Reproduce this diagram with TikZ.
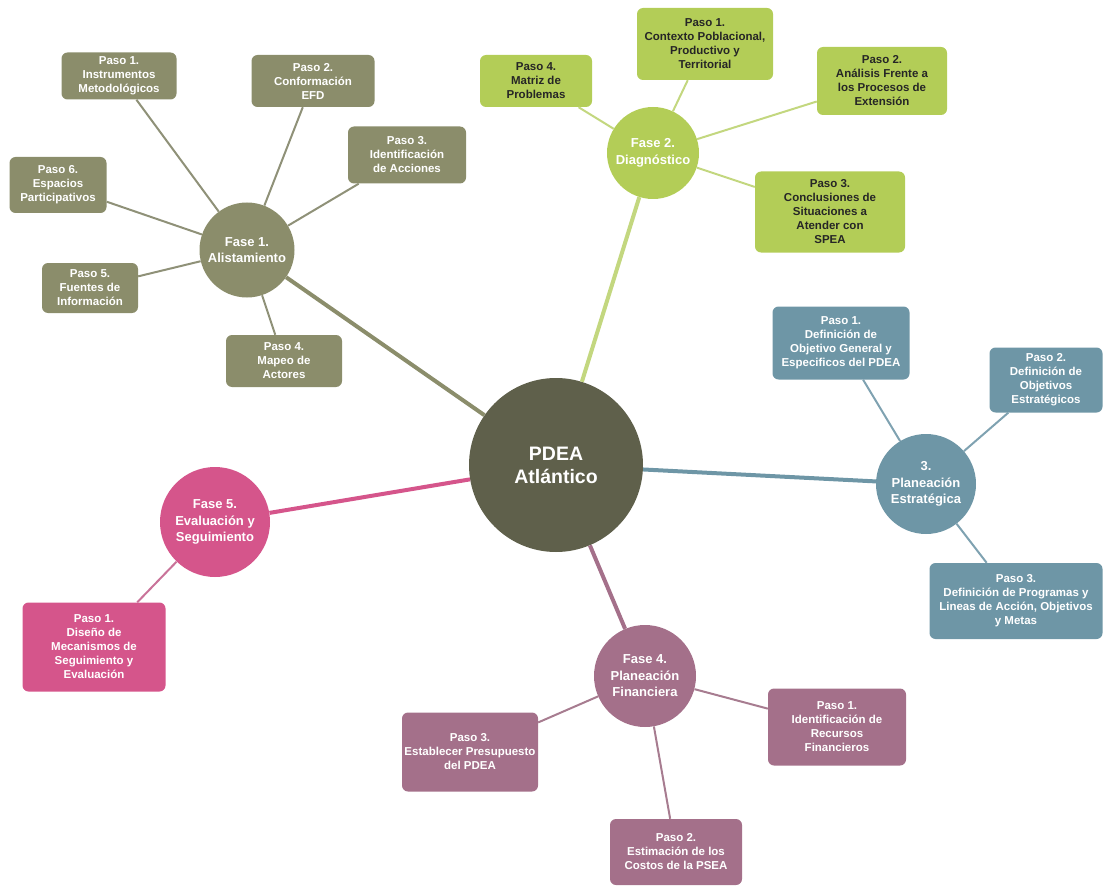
\documentclass[tikz,border=0pt]{standalone}
\usepackage{fontspec}
\setmainfont{Liberation Sans}
\definecolor{cCentro}{HTML}{5F604B}
\definecolor{cAlista}{HTML}{8B8D6B}
\definecolor{lAlista}{HTML}{8F9178}
\definecolor{cDiag}{HTML}{B3CD57}
\definecolor{lDiag}{HTML}{C3D77F}
\definecolor{cPlan}{HTML}{6E96A6}
\definecolor{lPlan}{HTML}{7FA2B1}
\definecolor{cFin}{HTML}{A4708A}
\definecolor{lFin}{HTML}{A77C90}
\definecolor{cEval}{HTML}{D5558B}
\definecolor{lEval}{HTML}{C97399}
\begin{document}
\begin{tikzpicture}[
        x=1pt,
        y=-1pt,
        font=\bfseries
    ]
    \tikzset{
        centro/.style = {circle, fill=cCentro, text=white, align=center, inner sep=0pt, minimum size=174pt, font=\bfseries\fontsize{19.5}{23}\selectfont},
        fase/.style = {circle, text=white, align=center, inner sep=0pt, font=\bfseries\fontsize{13}{16.5}\selectfont},
        paso/.style = {rectangle, rounded corners=6pt, text=white, align=center, inner sep=2pt, font=\bfseries\fontsize{11.5}{14}\selectfont},
        ramal/.style = {-, line width=4pt},
        hoja/.style = {-, line width=2pt},
    }
    \useasboundingbox (0,0) rectangle (1104,888);
    \node[centro] at (556,465) (pdea) {PDEA\\Atlántico};
    %
    \node[fase, fill=cAlista, minimum size=95pt] at (247,250) (f1) {Fase 1.\\Alistamiento};
    \node[paso, fill=cAlista, minimum width=115pt, minimum height=47pt] at (119,76) (f1p1) {Paso 1.\\Instrumentos\\Metodológicos};
    \node[paso, fill=cAlista, minimum width=123pt, minimum height=52pt] at (313,81) (f1p2) {Paso 2.\\Conformación\\EFD};
    \node[paso, fill=cAlista, minimum width=118pt, minimum height=57pt] at (407,155) (f1p3) {Paso 3.\\Identificación\\de Acciones};
    \node[paso, fill=cAlista, minimum width=116pt, minimum height=52pt] at (284,361) (f1p4) {Paso 4.\\Mapeo de\\Actores};
    \node[paso, fill=cAlista, minimum width=96pt, minimum height=50pt] at (90,288) (f1p5) {Paso 5.\\Fuentes de\\Información};
    \node[paso, fill=cAlista, minimum width=97pt, minimum height=56pt] at (58,185) (f1p6) {Paso 6.\\Espacios\\Participativos};
    %
    \node[fase, fill=cDiag, minimum size=92pt] at (653,153) (f2) {Fase 2.\\Diagnóstico};
    \node[paso, fill=cDiag, minimum width=136pt, minimum height=72pt, text=black!85] at (705,44) (f2p1) {Paso 1.\\Contexto Poblacional,\\Productivo y\\Territorial};
    \node[paso, fill=cDiag, minimum width=130pt, minimum height=68pt, text=black!85] at (882,81) (f2p2) {Paso 2.\\Análisis Frente a\\los Procesos de\\Extensión};
    \node[paso, fill=cDiag, minimum width=150pt, minimum height=81pt, text=black!85] at (830,212) (f2p3) {Paso 3.\\Conclusiones de\\Situaciones a\\Atender con\\SPEA};
    \node[paso, fill=cDiag, minimum width=112pt, minimum height=52pt, text=black!85] at (536,81) (f2p4) {Paso 4.\\Matriz de\\Problemas};
    %
    \node[fase, fill=cPlan, minimum size=100pt] at (926,484) (f3) {3.\\Planeación\\Estratégica};
    \node[paso, fill=cPlan, minimum width=137pt, minimum height=73pt] at (841,343) (f3p1) {Paso 1.\\Definición de\\Objetivo General y\\Especificos del PDEA};
    \node[paso, fill=cPlan, minimum width=113pt, minimum height=65pt] at (1046,380) (f3p2) {Paso 2.\\Definición de\\Objetivos\\Estratégicos};
    \node[paso, fill=cPlan, minimum width=173pt, minimum height=76pt] at (1016,601) (f3p3) {Paso 3.\\Definición de Programas y\\Lineas de Acción, Objetivos\\y Metas};
    %
    \node[fase, fill=cFin, minimum size=102pt] at (645,676) (f4) {Fase 4.\\Planeación\\Financiera};
    \node[paso, fill=cFin, minimum width=138pt, minimum height=77pt] at (837,727) (f4p1) {Paso 1.\\Identificación de\\Recursos\\Financieros};
    \node[paso, fill=cFin, minimum width=132pt, minimum height=66pt] at (676,852) (f4p2) {Paso 2.\\Estimación de los\\Costos de la PSEA};
    \node[paso, fill=cFin, minimum width=136pt, minimum height=79pt] at (470,752) (f4p3) {Paso 3.\\Establecer Presupuesto\\del PDEA};
    %
    \node[fase, fill=cEval, minimum size=110pt] at (215,522) (f5) {Fase 5.\\Evaluación y\\Seguimiento};
    \node[paso, fill=cEval, minimum width=143pt, minimum height=89pt] at (94,647) (f5p1) {Paso 1.\\Diseño de\\Mecanismos de\\Seguimiento y\\Evaluación};
    %
    \draw[ramal, cAlista] (pdea) -- (f1);
    \draw[ramal, lDiag] (pdea) -- (f2);
    \draw[ramal, cPlan] (pdea) -- (f3);
    \draw[ramal, cFin] (pdea) -- (f4);
    \draw[ramal, cEval] (pdea) -- (f5);
    %
    \foreach \p in {1,...,6} {\draw[hoja, lAlista] (f1) -- (f1p\p);}
    \foreach \p in {1,...,4} {\draw[hoja, lDiag] (f2) -- (f2p\p);}
    \foreach \p in {1,...,3} {\draw[hoja, lPlan] (f3) -- (f3p\p);}
    \foreach \p in {1,...,3} {\draw[hoja, lFin] (f4) -- (f4p\p);}
    \draw[hoja, lEval] (f5) -- (f5p1);
\end{tikzpicture}
\end{document}
